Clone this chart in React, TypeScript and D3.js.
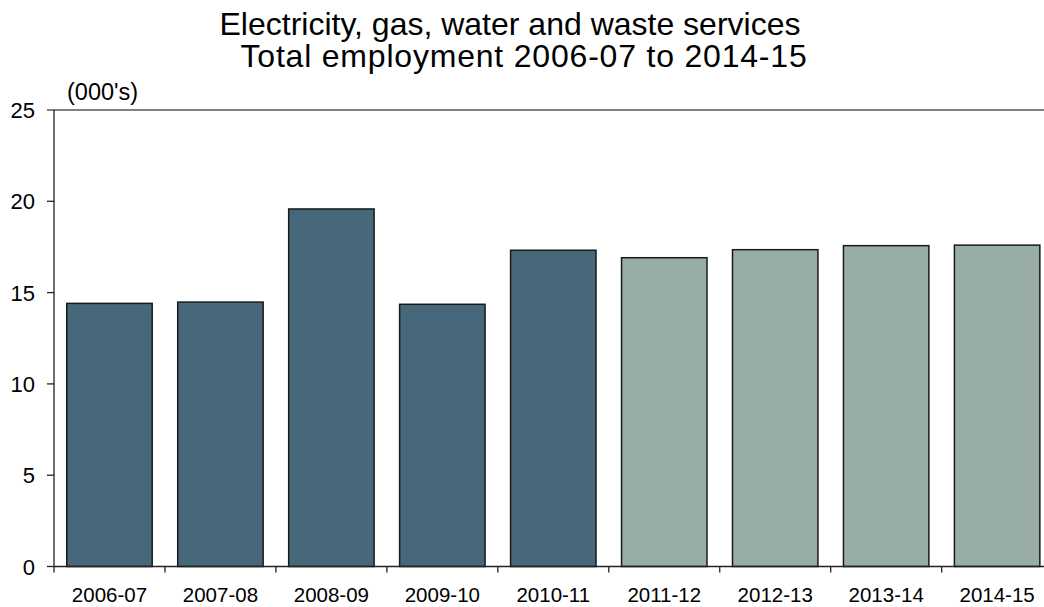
import React from "react";
import * as d3 from "d3";

const categories = ["2006-07", "2007-08", "2008-09", "2009-10", "2010-11", "2011-12", "2012-13", "2013-14", "2014-15"];
const employment = [14.41, 14.48, 19.58, 14.36, 17.32, 16.91, 17.35, 17.57, 17.6];
const projected = [false, false, false, false, false, true, true, true, true];
const yTicks = [0, 5, 10, 15, 20, 25];
const titleLines = ["Electricity, gas, water and waste services", "Total employment 2006-07 to 2014-15"];
const unitLabel = "(000's)";

const W = 1044;
const H = 607;
const left = 54;
const top = 110;
const bottom = 566.5;
const right = 1052.6;
const FONT = "'Liberation Sans', Arial, sans-serif";

export default function App() {
  const x = d3.scaleBand<string>().domain(categories).range([left, right]).paddingInner(0.23).paddingOuter(0.115);
  const y = d3.scaleLinear().domain([0, 25]).range([bottom, top]);
  const step = x.step();
  const bounds = categories.map((c) => (x(c) as number) - step * 0.115);
  return (
    <svg width={W} height={H} style={{ position: "fixed", left: 0, top: 0, background: "#fff" }} fontFamily={FONT}>
      <text x={510} y={35} textAnchor="middle" fontSize={32} fill="#000">{titleLines[0]}</text>
      <text x={524} y={66.5} textAnchor="middle" fontSize={32} letterSpacing={0.8} fill="#000">{titleLines[1]}</text>
      <text x={67} y={100} fontSize={23.5} fill="#000">{unitLabel}</text>
      {categories.map((c, i) => (
        <rect key={c} x={x(c)} y={y(employment[i])} width={x.bandwidth()} height={y(0) - y(employment[i])}
          fill={projected[i] ? "#97ada6" : "#46687a"} stroke="#1a1a1a" strokeWidth={1.5} />
      ))}
      <line x1={left - 7} x2={W} y1={top} y2={top} stroke="#808080" strokeWidth={2} />
      <line x1={left} x2={left} y1={top} y2={bottom} stroke="#222" strokeWidth={1.3} />
      <line x1={left} x2={W} y1={bottom} y2={bottom} stroke="#222" strokeWidth={1.3} />
      {yTicks.map((t) => (
        <g key={t}>
          {t !== 25 && <line x1={left - 7} x2={left} y1={y(t)} y2={y(t)} stroke="#222" strokeWidth={1.3} />}
          <text x={35} y={y(t)} dy={8} textAnchor="end" fontSize={22} fill="#000">{t}</text>
        </g>
      ))}
      {bounds.map((b, i) => (
        <line key={i} x1={b} x2={b} y1={bottom} y2={bottom + 6} stroke="#222" strokeWidth={1.3} />
      ))}
      {categories.map((c) => (
        <text key={c} x={(x(c) as number) + x.bandwidth() / 2} y={601.5} textAnchor="middle" fontSize={20.5} fill="#000">{c}</text>
      ))}
    </svg>
  );
}
